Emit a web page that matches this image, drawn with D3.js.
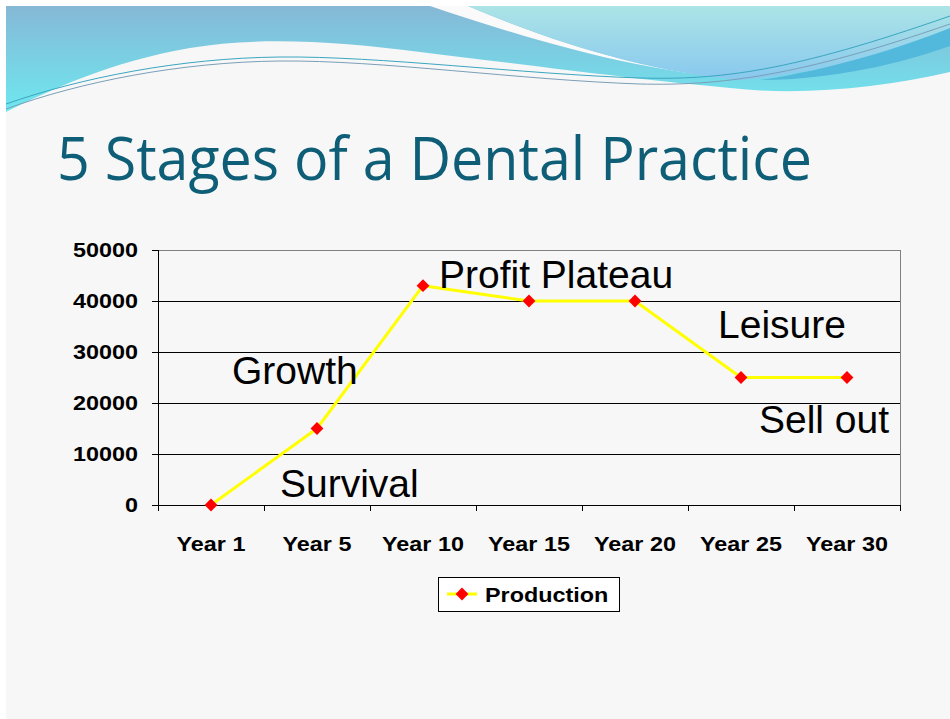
<!DOCTYPE html>
<html lang="en">
<head>
<meta charset="UTF-8">
<title>5 Stages of a Dental Practice</title>
<script src="https://d3js.org/d3.v7.min.js"></script>
<style>
  body, html { margin: 0; padding: 0; background: #ffffff; }
  svg { display: block; }
  .lbl { font-family: "Liberation Sans", Arial, sans-serif; font-weight: bold; font-size: 20.5px; fill: #000; }
  .note { font-family: "Liberation Sans", Arial, sans-serif; font-size: 39px; fill: #000; }
</style>
</head>
<body>
<div id="chart"></div>
<script>
// chart data
const categories = ["Year 1", "Year 5", "Year 10", "Year 15", "Year 20", "Year 25", "Year 30"];
const production = [0, 15000, 43000, 40000, 40000, 25000, 25000];
const yTicks = [0, 10000, 20000, 30000, 40000, 50000];
const seriesName = "Production";
// stage labels: category they sit near, value they sit at
const stages = [
  { text: "Growth", cat: "Year 5", value: 23700, dx: -85 },
  { text: "Survival", cat: "Year 5", value: 1500, dx: -37 },
  { text: "Profit Plateau", cat: "Year 10", value: 42500, dx: 16 },
  { text: "Leisure", cat: "Year 25", value: 32800, dx: -23 },
  { text: "Sell out", cat: "Year 30", value: 14200, dx: -88 }
];

const W = 950, H = 719;
const SX = 1.14; // axis text is drawn a bit wide, as in the slide
const svg = d3.select("#chart").append("svg").attr("width", W).attr("height", H);

// slide background
svg.append("rect").attr("x", 6).attr("y", 6).attr("width", W - 6).attr("height", H - 6).attr("fill", "#f7f7f7");

// header waves
const defs = svg.append("defs");
const g1 = defs.append("linearGradient").attr("id", "band").attr("x1", 0).attr("y1", 0).attr("x2", 0).attr("y2", 1);
g1.append("stop").attr("offset", "0%").attr("stop-color", "#86b8d6");
g1.append("stop").attr("offset", "100%").attr("stop-color", "#6ee8f0");
const g2 = defs.append("linearGradient").attr("id", "band2").attr("x1", 0).attr("y1", 0).attr("x2", 0).attr("y2", 1);
g2.append("stop").attr("offset", "0%").attr("stop-color", "#ace4e6");
g2.append("stop").attr("offset", "100%").attr("stop-color", "#88c8ee");

svg.append("path")
  .attr("d", "M6,6 L950,6 L950,72 C880,88 800,96 730,88 C640,80 520,64 420,52 C340,42 260,36 190,48 C110,62 50,90 6,112 Z")
  .attr("fill", "url(#band)");
svg.append("path")
  .attr("d", "M430,6 L468,6 C560,45 650,72 740,78 C660,74 560,50 430,6 Z")
  .attr("fill", "#fafafa");
svg.append("path")
  .attr("d", "M468,6 L950,6 L950,36 C880,56 800,76 740,80 C650,72 560,45 468,6 Z")
  .attr("fill", "url(#band2)");
svg.append("path")
  .attr("d", "M760,80 C830,70 900,48 950,28 L950,46 C900,64 830,80 760,80 Z")
  .attr("fill", "#52b8dc");
svg.append("path")
  .attr("d", "M6,104 C80,78 180,58 280,57 C380,56 520,74 640,78 C720,80 790,72 950,16")
  .attr("fill", "none").attr("stroke", "#3aa6c0").attr("stroke-width", 1);
svg.append("path")
  .attr("d", "M6,109 C80,82 180,62 280,61 C380,60 520,80 640,84 C720,86 800,76 950,24")
  .attr("fill", "none").attr("stroke", "#7a9fb8").attr("stroke-width", 1);

// title
svg.append("text")
  .attr("x", 57).attr("y", 180)
  .attr("font-family", "'Open Sans', 'Noto Sans', sans-serif")
  .attr("font-size", 60)
  .attr("fill", "#0f5e77")
  .attr("textLength", 755)
  .attr("lengthAdjust", "spacingAndGlyphs")
  .text("5 Stages of a Dental Practice");

// plot area
const plot = { left: 158, right: 900, top: 250, bottom: 505 };
const x = d3.scaleBand().domain(categories).range([plot.left, plot.right]);
const y = d3.scaleLinear().domain([0, 50000]).range([plot.bottom, plot.top]);

// grid
svg.append("g").selectAll("line").data(yTicks.slice(1)).join("line")
  .attr("x1", plot.left).attr("x2", plot.right)
  .attr("y1", d => y(d)).attr("y2", d => y(d))
  .attr("stroke", d => d === 50000 ? "#808080" : "#000").attr("stroke-width", 1)
  .attr("shape-rendering", "crispEdges");
svg.append("line")
  .attr("x1", plot.right).attr("x2", plot.right).attr("y1", plot.top).attr("y2", plot.bottom)
  .attr("stroke", "#808080").attr("shape-rendering", "crispEdges");

// y axis
const yAxis = svg.append("g")
  .attr("transform", `translate(${plot.left},0)`)
  .call(d3.axisLeft(y).tickValues(yTicks).tickSize(6).tickFormat(""));
yAxis.select(".domain").attr("stroke", "#000").attr("shape-rendering", "crispEdges");
yAxis.selectAll(".tick line").attr("stroke", "#000").attr("shape-rendering", "crispEdges");
svg.append("g").selectAll("text").data(yTicks).join("text")
  .attr("class", "lbl")
  .attr("transform", d => `translate(138,${y(d) + 7}) scale(${SX},1)`)
  .attr("text-anchor", "end")
  .text(d3.format("d"));

// x axis (ticks between categories)
svg.append("line")
  .attr("x1", plot.left - 6).attr("x2", plot.right)
  .attr("y1", plot.bottom).attr("y2", plot.bottom)
  .attr("stroke", "#000").attr("shape-rendering", "crispEdges");
const bounds = categories.map(c => x(c)).concat([plot.right]);
svg.append("g").selectAll("line").data(bounds).join("line")
  .attr("x1", d => d).attr("x2", d => d)
  .attr("y1", plot.bottom).attr("y2", plot.bottom + 6)
  .attr("stroke", "#000").attr("shape-rendering", "crispEdges");
svg.append("g").selectAll("text").data(categories).join("text")
  .attr("class", "lbl")
  .attr("transform", d => `translate(${x(d) + x.bandwidth() / 2},551) scale(${SX},1)`)
  .attr("text-anchor", "middle")
  .text(d => d);

// line + markers
const pts = categories.map((c, i) => [x(c) + x.bandwidth() / 2, y(production[i])]);
svg.append("path")
  .attr("d", d3.line()(pts))
  .attr("fill", "none").attr("stroke", "#ffff00").attr("stroke-width", 3)
  .attr("stroke-linejoin", "round");
const diamond = d3.symbol().type(d3.symbolDiamond2).size(105);
svg.append("g").selectAll("path").data(pts).join("path")
  .attr("transform", d => `translate(${d[0]},${d[1]})`)
  .attr("d", diamond).attr("fill", "#ff0000");

// stage labels
svg.append("g").selectAll("text").data(stages).join("text")
  .attr("class", "note")
  .attr("x", d => x(d.cat) + x.bandwidth() / 2 + d.dx)
  .attr("y", d => y(d.value))
  .text(d => d.text);

// legend
const lg = svg.append("g").attr("transform", "translate(438,577)");
lg.append("rect").attr("width", 181).attr("height", 34)
  .attr("fill", "#ffffff").attr("stroke", "#000").attr("shape-rendering", "crispEdges");
lg.append("line").attr("x1", 9).attr("x2", 39).attr("y1", 17).attr("y2", 17)
  .attr("stroke", "#ffff00").attr("stroke-width", 3);
lg.append("path").attr("transform", "translate(24,17)").attr("d", diamond).attr("fill", "#ff0000");
lg.append("text").attr("class", "lbl")
  .attr("transform", `translate(47,25) scale(${SX},1)`)
  .text(seriesName);
</script>
</body>
</html>
